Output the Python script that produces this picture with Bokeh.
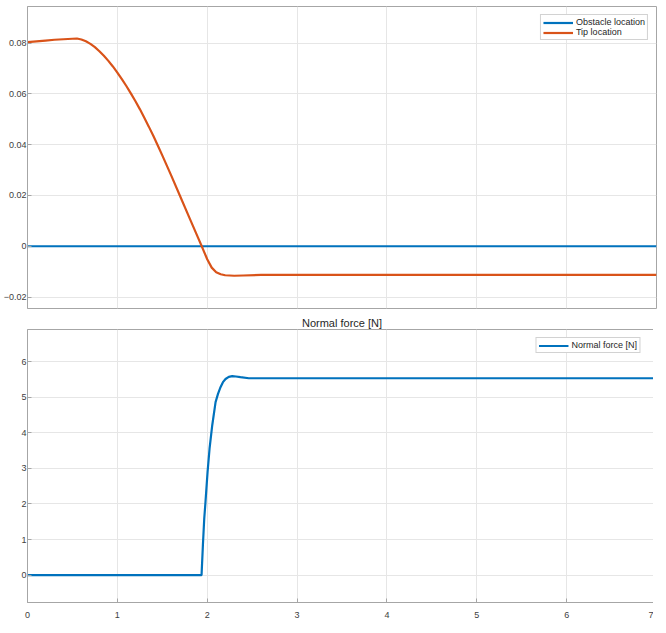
from bokeh.plotting import figure
from bokeh.layouts import column
from bokeh.models import (FixedTicker, CustomJSTickFormatter, Range1d,
                          Legend, LegendItem)
from bokeh.embed import file_html
from bokeh.resources import INLINE

# ---- data ----
obstacle_t = [0.0, 7.0]
obstacle_loc = [0.0, 0.0]

tip_t = [0.0, 0.1, 0.2, 0.3, 0.4, 0.5, 0.55, 0.6, 0.65, 0.7, 0.75, 0.8, 0.85, 0.9,
         0.95, 1.0, 1.05, 1.1, 1.15, 1.2, 1.25, 1.3, 1.35, 1.4, 1.45, 1.5, 1.6,
         1.7, 1.8, 1.9, 1.95, 2.0, 2.05, 2.1, 2.15, 2.2, 2.3, 2.4, 2.6, 3.0, 7.0]
tip_loc = [0.0804, 0.0807, 0.0810, 0.0813, 0.0815, 0.0817, 0.0818, 0.0814, 0.0807,
           0.0797, 0.0784, 0.0768, 0.0750, 0.0730, 0.0708, 0.0684, 0.0658, 0.0631,
           0.0602, 0.0572, 0.0540, 0.0506, 0.0471, 0.0435, 0.0397, 0.0358, 0.0278,
           0.0196, 0.0114, 0.0032, -0.0009, -0.0051, -0.0084, -0.0102, -0.0110,
           -0.0114, -0.0116, -0.0115, -0.0113, -0.0113, -0.0113]

force_t = [0.0, 1.937, 1.952, 1.967, 1.981, 2.004, 2.026, 2.056, 2.093, 2.12,
           2.148, 2.175, 2.204, 2.24, 2.278, 2.32, 2.370, 2.463, 3.0, 7.0]
force_n = [0.0, 0.0, 0.84, 1.59, 2.06, 2.90, 3.55, 4.21, 4.86, 5.09, 5.28, 5.42,
           5.51, 5.57, 5.59, 5.58, 5.56, 5.53, 5.53, 5.53]

top_yticks = [-0.02, 0.0, 0.02, 0.04, 0.06, 0.08]
bot_yticks = [0, 1, 2, 3, 4, 5, 6]
xticks = [0, 1, 2, 3, 4, 5, 6, 7]

FONT = "Liberation Sans"
TXT = "#404040"
AX = "#a6a6a6"
GRID = "#e6e6e6"
BLUE = "#0072BD"
ORANGE = "#D95319"


def style(p, yticks, yfmt, show_x):
    p.outline_line_color = AX
    p.xgrid.grid_line_color = GRID
    p.ygrid.grid_line_color = GRID
    p.xaxis.ticker = FixedTicker(ticks=xticks)
    p.xgrid.ticker = FixedTicker(ticks=xticks)
    p.yaxis.ticker = FixedTicker(ticks=yticks)
    p.yaxis.formatter = CustomJSTickFormatter(code=yfmt)
    for ax in (p.xaxis[0], p.yaxis[0]):
        ax.axis_line_color = AX
        ax.major_tick_line_color = AX
        ax.major_tick_in = 4
        ax.major_tick_out = 0
        ax.minor_tick_line_color = None
        ax.major_label_text_font = FONT
        ax.major_label_text_font_size = "9px"
        ax.major_label_text_color = TXT
        ax.major_label_standoff = 1
    if not show_x:
        p.xaxis.visible = False


common = dict(output_backend="svg", toolbar_location=None, tools="",
              frame_width=629, min_border_left=22, min_border_right=2)

p1 = figure(frame_height=302, min_border_top=6, min_border_bottom=5,
            x_range=Range1d(0, 7), y_range=Range1d(-0.0245, 0.0944), **common)
fmt_top = ("if (Math.abs(tick) < 1e-9) return '0';"
           "return (tick < 0 ? '\u2212' : '') + Math.abs(tick).toFixed(2);")
style(p1, top_yticks, fmt_top, False)
r_obs = p1.line(obstacle_t, obstacle_loc, line_color=BLUE, line_width=2.2)
r_tip = p1.line(tip_t, tip_loc, line_color=ORANGE, line_width=2.2)
leg1 = Legend(items=[LegendItem(label="Obstacle location", renderers=[r_obs]),
                     LegendItem(label="Tip location", renderers=[r_tip])],
              location="top_right")
p1.add_layout(leg1)

p2 = figure(frame_height=273, min_border_top=0, min_border_bottom=4,
            x_range=Range1d(0, 7), y_range=Range1d(-0.77, 6.9),
            title="Normal force [N]", **common)
fmt_bot = "return tick.toFixed(0);"
style(p2, bot_yticks, fmt_bot, True)
p2.xaxis.major_label_standoff = 9
p2.title.align = "center"
p2.title.text_font = FONT
p2.title.text_font_size = "11px"
p2.title.text_font_style = "normal"
p2.title.text_color = "#262626"
p2.title.standoff = 2
p2.title.offset = 0
r_f = p2.line(force_t, force_n, line_color=BLUE, line_width=2.2)
leg2 = Legend(items=[LegendItem(label="Normal force [N]", renderers=[r_f])],
              location="top_right")
p2.add_layout(leg2)

for lg in (leg1, leg2):
    lg.label_text_font = FONT
    lg.label_text_font_size = "9px"
    lg.label_text_color = "#262626"
    lg.glyph_width = 30
    lg.glyph_height = 9
    lg.label_height = 9
    lg.label_standoff = 3
    lg.spacing = 0
    lg.padding = 2
    lg.margin = 8
    lg.border_line_color = AX
    lg.background_fill_alpha = 1.0

layout = column(p1, p2)
open("out.html", "w").write(file_html(layout, INLINE))
